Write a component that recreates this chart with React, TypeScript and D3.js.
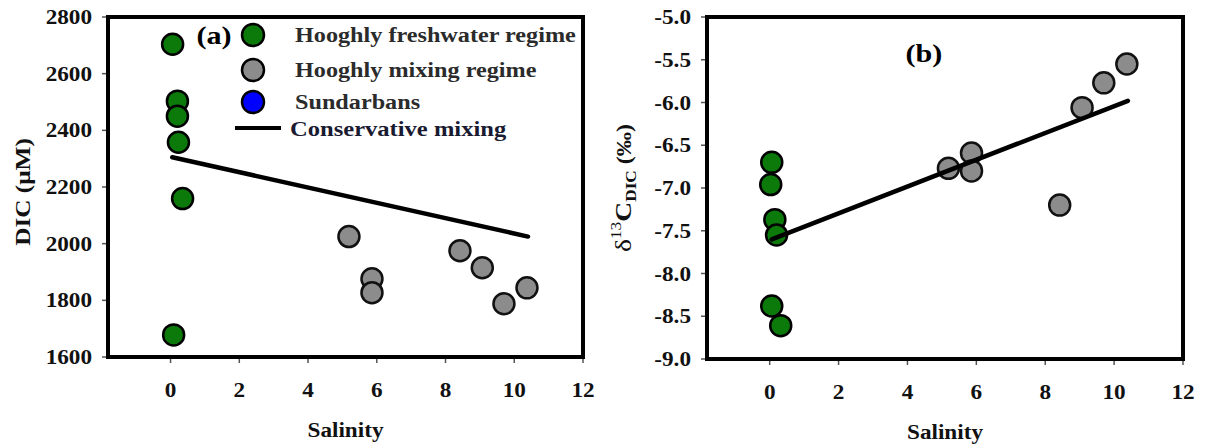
import React from "react";
import * as d3 from "d3";

// ---------- data ----------
const xTicks = [0, 2, 4, 6, 8, 10, 12];

// Panel (a): DIC vs salinity
const aYTicks = [1600, 1800, 2000, 2200, 2400, 2600, 2800];
const aFreshSal = [0.06, 0.2, 0.2, 0.23, 0.35, 0.09];
const aFreshDic = [2704, 2503, 2450, 2358, 2159, 1678];
const aMixSal = [5.19, 5.86, 5.86, 8.42, 9.07, 9.7, 10.37];
const aMixDic = [2025, 1876, 1827, 1975, 1915, 1788, 1844];
const aLineSal = [0.05, 10.4];
const aLineDic = [2305, 2025];

// Panel (b): d13C-DIC vs salinity
const bYTicks = [-9.0, -8.5, -8.0, -7.5, -7.0, -6.5, -6.0, -5.5, -5.0];
const bFreshSal = [0.06, 0.03, 0.15, 0.2, 0.06, 0.32];
const bFreshD13 = [-6.7, -6.96, -7.37, -7.55, -8.38, -8.61];
const bMixSal = [5.19, 5.86, 5.86, 8.42, 9.07, 9.7, 10.37];
const bMixD13 = [-6.77, -6.59, -6.8, -7.2, -6.06, -5.77, -5.55];
const bLineSal = [0.06, 10.4];
const bLineD13 = [-7.6, -5.98];

const legendLabels = [
  "Hooghly freshwater regime",
  "Hooghly mixing regime",
  "Sundarbans",
  "Conservative mixing",
];

const GREEN = "#0b7a0b";
const GRAY = "#8c8c8c";
const BLUE = "#0000ff";
const FONT = "'Liberation Serif', 'Times New Roman', serif";
const SX = 1.16;

type PanelProps = {
  x0: number; x1: number; y0: number; y1: number;
  yDomain: [number, number];
  yTicks: number[];
  yFmt: (v: number) => string;
  freshX: number[]; freshY: number[];
  mixX: number[]; mixY: number[];
  lineX: number[]; lineY: number[];
  yTitle: React.ReactNode;
  yTitleX: number;
  yTitleY: number;
  yTitleSize: number;
};

function Panel(p: PanelProps) {
  const xs = d3.scaleLinear().domain([-1.82, 12]).range([p.x0, p.x1]);
  const ys = d3.scaleLinear().domain(p.yDomain).range([p.y1, p.y0]);
  const line = d3
    .line<number>()
    .x((_, i) => xs(p.lineX[i]))
    .y((v) => ys(v));
  const cx = (p.x0 + p.x1) / 2;
  return (
    <g>
      {/* ticks */}
      {xTicks.map((t) => (
        <g key={"xt" + t}>
          <line x1={xs(t)} x2={xs(t)} y1={p.y1} y2={p.y1 + 6} stroke="#555" strokeWidth={1.5} />
          <text
            transform={`translate(${xs(t)},${p.y1 + 40}) scale(${SX},1)`}
            textAnchor="middle"
            fontFamily={FONT}
            fontWeight="bold"
            fontSize={20}
            fill="#111"
          >
            {t}
          </text>
        </g>
      ))}
      {p.yTicks.map((t) => (
        <g key={"yt" + t}>
          <line x1={p.x0 - 6} x2={p.x0} y1={ys(t)} y2={ys(t)} stroke="#555" strokeWidth={1.5} />
          <text
            transform={`translate(${p.x0 - 16},${ys(t) + 7}) scale(${SX},1)`}
            textAnchor="end"
            fontFamily={FONT}
            fontWeight="bold"
            fontSize={20}
            fill="#111"
          >
            {p.yFmt(t)}
          </text>
        </g>
      ))}
      {/* box */}
      <rect
        x={p.x0}
        y={p.y0}
        width={p.x1 - p.x0}
        height={p.y1 - p.y0}
        fill="none"
        stroke="#000"
        strokeWidth={4}
      />
      {/* points */}
      {p.freshX.map((s, i) => (
        <circle key={"f" + i} cx={xs(s)} cy={ys(p.freshY[i])} r={10.5} fill={GREEN} stroke="#000" strokeWidth={2.5} />
      ))}
      {p.mixX.map((s, i) => (
        <circle key={"m" + i} cx={xs(s)} cy={ys(p.mixY[i])} r={10.5} fill={GRAY} stroke="#111" strokeWidth={2.5} />
      ))}
      <path d={line(p.lineY) || ""} fill="none" stroke="#000" strokeWidth={4.5} strokeLinecap="round" />
      {/* axis titles */}
      <text
        transform={`translate(${cx},${p.y1 + 80}) scale(${SX},1)`}
        textAnchor="middle"
        fontFamily={FONT}
        fontWeight="bold"
        fontSize={20}
        fill="#111"
      >
        Salinity
      </text>
      <text
        transform={`translate(${p.yTitleX},${p.yTitleY}) rotate(-90) scale(1.15,1)`}
        textAnchor="middle"
        fontFamily={FONT}
        fontWeight="bold"
        fontSize={p.yTitleSize}
        fill="#111"
      >
        {p.yTitle}
      </text>
    </g>
  );
}

const hyphen = (s: string) => s.replace("\u2212", "-");

export default function App() {
  const legendY = [35, 70, 102];
  const legendFill = [GREEN, GRAY, BLUE];
  return (
    <svg
      width={1205}
      height={448}
      style={{ position: "absolute", left: 0, top: 0, background: "#fff" }}
    >
      <rect width={1205} height={448} fill="#fff" />
      <Panel
        x0={108}
        x1={583}
        y0={17}
        y1={357}
        yDomain={[1600, 2800]}
        yTicks={aYTicks}
        yFmt={(v) => d3.format("d")(v)}
        freshX={aFreshSal}
        freshY={aFreshDic}
        mixX={aMixSal}
        mixY={aMixDic}
        lineX={aLineSal}
        lineY={aLineDic}
        yTitle={"DIC (μM)"}
        yTitleX={30}
        yTitleY={192}
        yTitleSize={22}
      />
      <Panel
        x0={707}
        x1={1183}
        y0={17}
        y1={359}
        yDomain={[-9, -5]}
        yTicks={bYTicks}
        yFmt={(v) => hyphen(d3.format(".1f")(v))}
        freshX={bFreshSal}
        freshY={bFreshD13}
        mixX={bMixSal}
        mixY={bMixD13}
        lineX={bLineSal}
        lineY={bLineD13}
        yTitle={
          <>
            <tspan fontWeight="normal" fontSize={24}>δ</tspan>
            <tspan fontWeight="normal" fontSize={15} dy={-10}>13</tspan>
            <tspan fontSize={24} dy={10}>C</tspan>
            <tspan fontSize={15} dy={5}>DIC</tspan>
            <tspan fontSize={21} dy={-5}> (‰)</tspan>
          </>
        }
        yTitleX={631}
        yTitleY={188}
        yTitleSize={21}
      />
      {/* panel labels */}
      <text
        transform={`translate(214,44) scale(${SX},1)`}
        textAnchor="middle"
        fontFamily={FONT}
        fontWeight="bold"
        fontSize={26}
        fill="#000"
      >
        (a)
      </text>
      <text
        transform={`translate(924,62) scale(${SX},1)`}
        textAnchor="middle"
        fontFamily={FONT}
        fontWeight="bold"
        fontSize={26}
        fill="#000"
      >
        (b)
      </text>
      {/* legend */}
      {legendY.map((y, i) => (
        <g key={"lg" + i}>
          <circle cx={253} cy={y} r={11} fill={legendFill[i]} stroke="#000" strokeWidth={2.5} />
          <text
            transform={`translate(295,${y + 7}) scale(1.21,1)`}
            fontFamily={FONT}
            fontWeight="bold"
            fontSize={20}
            fill="#2b2b2b"
          >
            {legendLabels[i]}
          </text>
        </g>
      ))}
      <line x1={235} x2={281} y1={128} y2={128} stroke="#000" strokeWidth={4} />
      <text
        transform={`translate(290,136) scale(1.17,1)`}
        fontFamily={FONT}
        fontWeight="bold"
        fontSize={21}
        fill="#1a1a30"
      >
        {legendLabels[3]}
      </text>
    </svg>
  );
}
